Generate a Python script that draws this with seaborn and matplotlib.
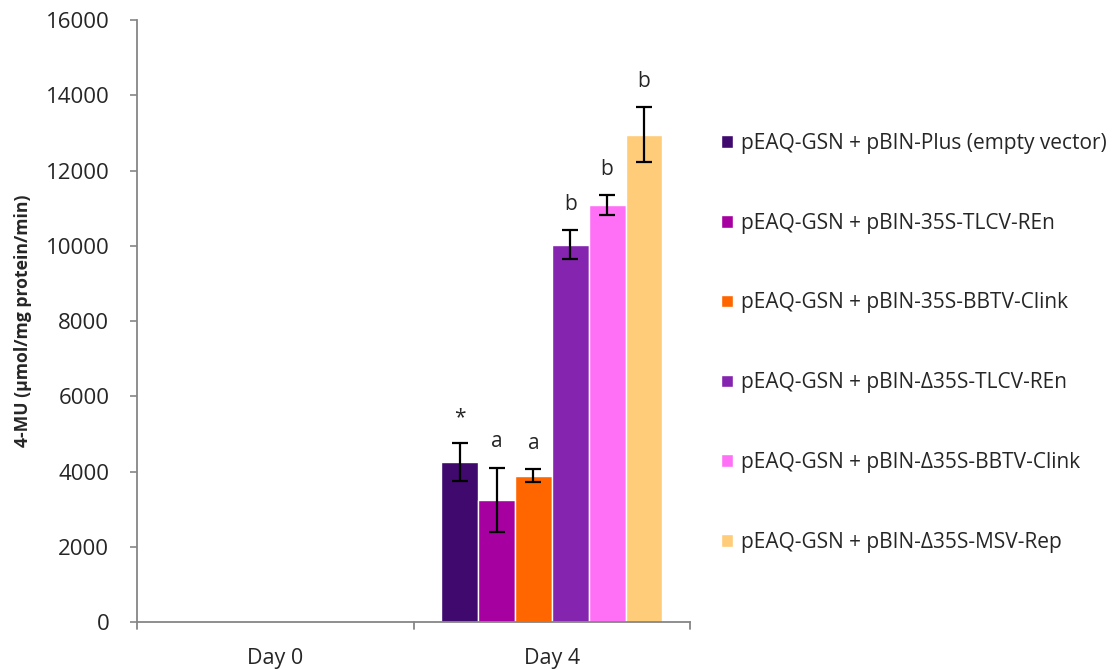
import matplotlib
matplotlib.use("Agg")
import matplotlib.pyplot as plt
import seaborn as sns
import pandas as pd
import numpy as np
from matplotlib.transforms import blended_transform_factory

days = ["Day 0", "Day 4"]
treatments = [
    "pEAQ-GSN + pBIN-Plus (empty vector)",
    "pEAQ-GSN + pBIN-35S-TLCV-REn",
    "pEAQ-GSN + pBIN-35S-BBTV-Clink",
    "pEAQ-GSN + pBIN-Δ35S-TLCV-REn",
    "pEAQ-GSN + pBIN-Δ35S-BBTV-Clink",
    "pEAQ-GSN + pBIN-Δ35S-MSV-Rep",
]
day0_values = [0, 0, 0, 0, 0, 0]
day4_values = [4250, 3250, 3890, 10030, 11090, 12950]
day4_errors = [500, 850, 180, 380, 260, 730]
day4_letters = ["*", "a", "a", "b", "b", "b"]
colors = ["#3F096D", "#A600A0", "#FF6600", "#8424AF", "#FF70F6", "#FFCC7A"]
yticks = [0, 2000, 4000, 6000, 8000, 10000, 12000, 14000, 16000]

sns.set_style("white")
plt.rcParams["font.family"] = ["Open Sans", "DejaVu Sans"]

rows = []
for t, v in zip(treatments, day0_values):
    rows.append({"Day": "Day 0", "Treatment": t, "Value": v})
for t, v in zip(treatments, day4_values):
    rows.append({"Day": "Day 4", "Treatment": t, "Value": v})
df = pd.DataFrame(rows)

fig = plt.figure(figsize=(11.15, 6.70), dpi=100)
ax = fig.add_axes([0.1229, 0.0716, 0.4960, 0.8985])

sns.barplot(data=df, x="Day", y="Value", hue="Treatment", order=days,
            hue_order=treatments, palette=colors, width=0.8, saturation=1,
            edgecolor="white", linewidth=1.0, errorbar=None, ax=ax,
            legend=True)

for i, (t, v, e, lab) in enumerate(zip(treatments, day4_values, day4_errors, day4_letters)):
    patch = ax.containers[i].patches[1]
    xc = patch.get_x() + patch.get_width() / 2
    ax.errorbar(xc, v, yerr=e, fmt="none", ecolor="black", elinewidth=1.6,
                capsize=6, capthick=1.6)
    ax.annotate(lab, (xc, v + e), xytext=(0, 11), textcoords="offset points",
                ha="center", va="bottom", fontsize=15)

ax.set_xlim(-0.5, 1.5)
ax.set_ylim(0, 16000)
ax.set_yticks(yticks)
ax.set_yticklabels([str(y) for y in yticks], fontsize=16)
ax.set_xticks([0, 1])
ax.set_xticklabels(days, fontsize=15.5)
ax.tick_params(axis="x", length=0, pad=19)
ax.tick_params(axis="y", length=5, color="#868686", width=1.2, left=True,
               direction="out", pad=15)
ax.set_xlabel("")
ax.set_ylabel("4-MU (µmol/mg protein/min)", fontsize=12.7, fontweight="bold")
ax.yaxis.set_label_coords(-0.19, 0.5)

for s in ["top", "right"]:
    ax.spines[s].set_visible(False)
for s in ["left", "bottom"]:
    ax.spines[s].set_color("#868686")
    ax.spines[s].set_linewidth(1.3)

trans = blended_transform_factory(ax.transData, ax.transAxes)
for xb in [-0.5, 0.5, 1.5]:
    ax.plot([xb, xb], [0, -0.011], transform=trans, clip_on=False,
            color="#868686", lw=1.3)

handles, labels = ax.get_legend_handles_labels()
ax.get_legend().remove()
fig.legend(handles, labels, loc="upper left", bbox_to_anchor=(0.6393, 0.814),
           frameon=False, fontsize=15, handlelength=0.55, handleheight=0.55,
           handletextpad=0.4, labelspacing=2.82, borderaxespad=0)

fig.savefig("out.png", dpi=100)
